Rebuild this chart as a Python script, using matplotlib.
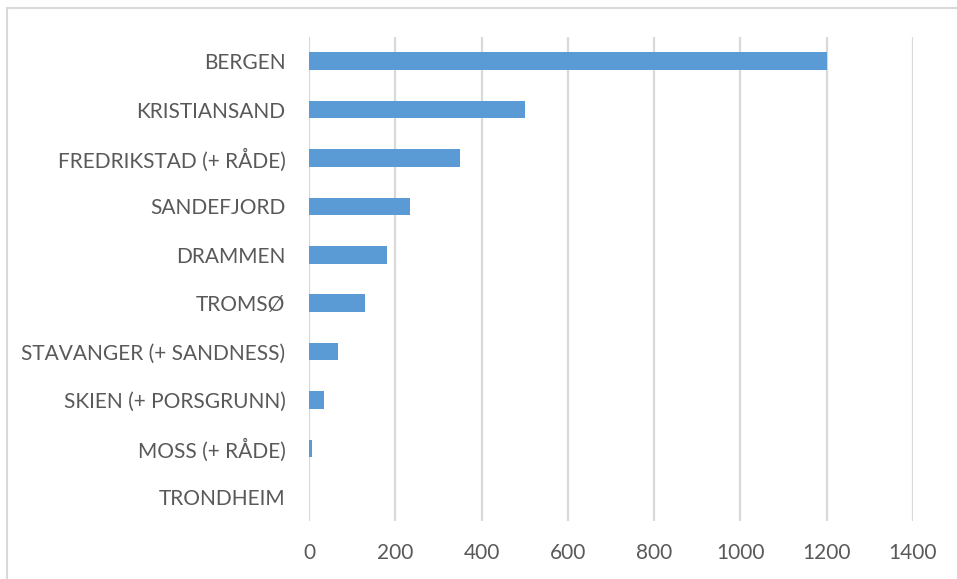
import matplotlib
matplotlib.use("Agg")
import matplotlib.pyplot as plt
from matplotlib.patches import Rectangle

# data, top to bottom as shown
cities = ["BERGEN", "KRISTIANSAND", "FREDRIKSTAD (+ RÅDE)", "SANDEFJORD",
          "DRAMMEN", "TROMSØ", "STAVANGER (+ SANDNESS)", "SKIEN (+ PORSGRUNN)",
          "MOSS (+ RÅDE)", "TRONDHEIM"]
values = [1200, 500, 350, 235, 180, 130, 68, 35, 7, 0]
xticks = [0, 200, 400, 600, 800, 1000, 1200, 1400]

W, H = 957, 579
plt.rcParams["font.family"] = ["Lato", "DejaVu Sans"]
txt = "#595959"
grid = "#d9d9d9"

fig = plt.figure(figsize=(W / 100, H / 100), dpi=100)
ax = fig.add_axes([309 / W, 1 - 521 / H, (913 - 309) / W, (521 - 37) / H])

y = list(range(len(cities)))
ax.barh(y, values, height=0.36, color="#5b9bd5", zorder=3)
ax.set_ylim(len(cities) - 0.5, -0.5)
ax.set_xlim(0, 1400)
ax.set_xticks(xticks)
ax.set_xticklabels([str(t) for t in xticks], fontsize=15, color=txt)
ax.set_yticks(y)
ax.set_yticklabels(cities, fontsize=15, color=txt)
ax.tick_params(axis="x", length=0, pad=16)
ax.tick_params(axis="y", length=0, pad=17)
ax.grid(axis="x", color=grid, linewidth=1.6, zorder=0)
for s in ax.spines.values():
    s.set_visible(False)

# chart frame (runs off the right and bottom edge)
fig.patches.append(Rectangle((7 / W, -0.05), 1.1, 1 - 8 / H + 0.05,
                             transform=fig.transFigure, fill=False,
                             edgecolor="#d9d9d9", linewidth=1.5))

fig.savefig("out.png", dpi=100)
